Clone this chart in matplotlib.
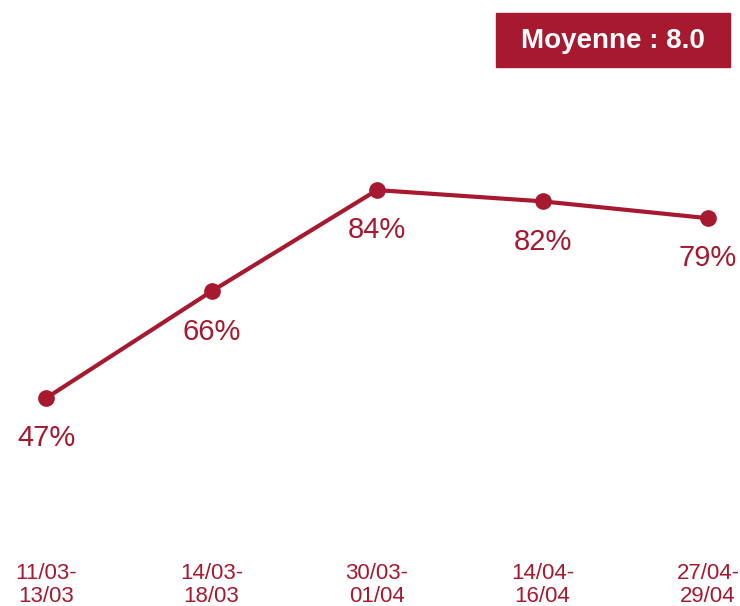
import matplotlib.pyplot as plt
from matplotlib.patches import Rectangle

# données
periodes = ["11/03-\n13/03", "14/03-\n18/03", "30/03-\n01/04", "14/04-\n16/04", "27/04-\n29/04"]
valeurs = [47, 66, 84, 82, 79]
moyenne = "Moyenne : 8.0"

rouge = "#A6192E"
plt.rcParams['font.family'] = ['Liberation Sans', 'DejaVu Sans']

fig = plt.figure(figsize=(7.4, 6.06), dpi=100)
ax = fig.add_axes([0, 0.084, 1, 0.916])

x = list(range(len(valeurs)))
ax.plot(x, valeurs, color=rouge, lw=3, marker='o', ms=11, solid_capstyle='round')

for xi, v in zip(x, valeurs):
    ax.annotate(f"{v}%", (xi, v), xytext=(0, -29), textcoords='offset points',
                ha='center', va='center', fontsize=21, color=rouge)

ax.set_xlim(-0.278, 4.193)
ax.set_ylim(19.1, 117.8)
ax.set_xticks(x)
ax.set_xticklabels(periodes, fontsize=16, color=rouge, linespacing=1.12)
ax.tick_params(axis='x', length=0, pad=6)
ax.set_yticks([])
for s in ax.spines.values():
    s.set_visible(False)

# encadré moyenne
fig.patches.append(Rectangle((496 / 740, 1 - 67 / 606), 234 / 740, 54 / 606,
                             transform=fig.transFigure, color=rouge))
fig.text(613 / 740, 1 - 41 / 606, moyenne, ha='center', va='center',
         fontsize=20, fontweight='bold', color='white')

fig.savefig("out.png", dpi=100)
